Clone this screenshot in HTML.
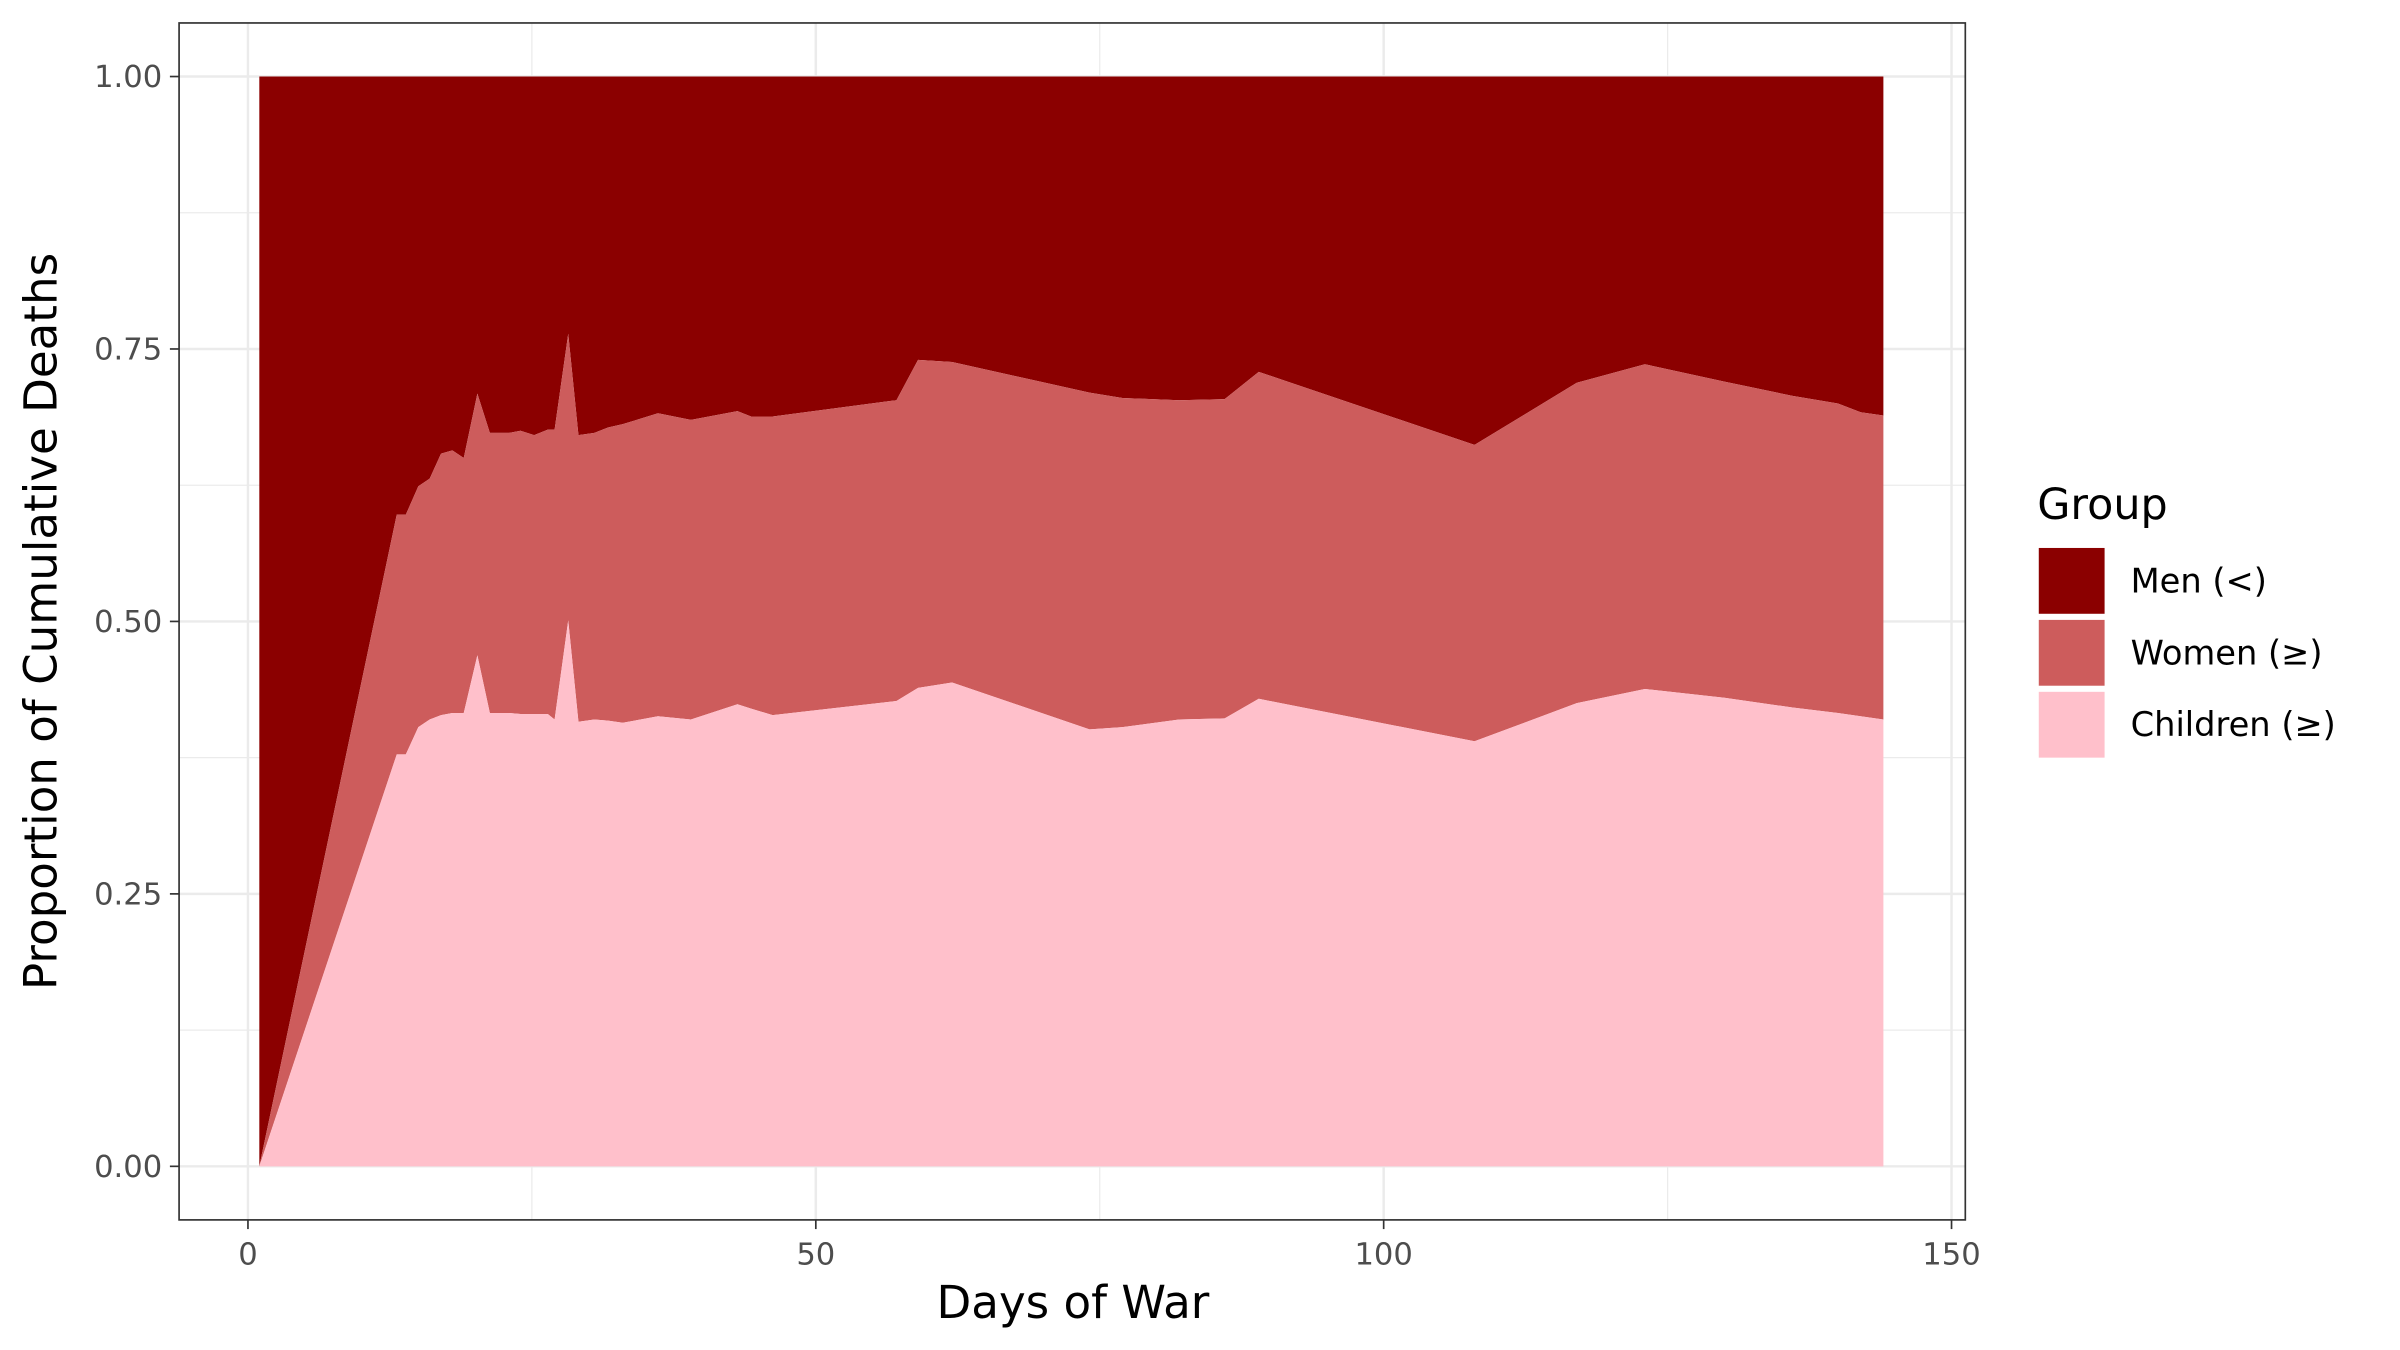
<!DOCTYPE html>
<html><head><meta charset="utf-8"><style>html,body{margin:0;padding:0;background:#fff}svg{display:block}</style></head>
<body>
<svg id="chart" width="2400" height="1350" viewBox="0 0 1568 882" preserveAspectRatio="none" xmlns="http://www.w3.org/2000/svg" font-family="'DejaVu Sans','Liberation Sans',sans-serif">
<rect x="0" y="0" width="1568" height="882" fill="#fff"/>
<g id="grid"></g>
<g id="areas"></g>
<rect x="117" y="15" width="1167" height="782" fill="none" stroke="#333" stroke-width="1.1"/>
<g id="axes"></g>
<text x="701" y="861" font-size="29.5" text-anchor="middle" fill="#000">Days of War</text>
<text transform="translate(37,406) rotate(-90)" font-size="29.5" text-anchor="middle" fill="#000">Proportion of Cumulative Deaths</text>
<g>
<text x="1331" y="339" font-size="28" fill="#000">Group</text>
<rect x="1332" y="358" width="43" height="43" fill="#8b0000"/>
<text x="1392" y="387" font-size="22" fill="#000">Men (&lt;)</text>
<rect x="1332" y="405" width="43" height="43" fill="#cd5c5c"/>
<text x="1392" y="434" font-size="22" fill="#000">Women (≥)</text>
<rect x="1332" y="452" width="43" height="43" fill="#ffc0cb"/>
<text x="1392" y="481" font-size="22" fill="#000">Children (≥)</text>
</g>
</svg>
<script>
const days = [1,13.1,13.9,15,16,17,18,19,20.2,21.3,23,24,25.2,26.4,27,28.2,29.1,30.5,31.7,33,36.1,39,43.1,44.3,46.2,57.1,59,62,74.1,77,82,86,89,108,117,123,130,136,140,142,144];
const childrenTop = [0,0.378,0.378,0.403,0.41,0.414,0.416,0.416,0.469,0.416,0.416,0.415,0.415,0.415,0.41,0.501,0.408,0.41,0.409,0.407,0.413,0.41,0.424,0.42,0.414,0.427,0.439,0.444,0.401,0.403,0.41,0.411,0.429,0.39,0.425,0.438,0.43,0.421,0.416,0.413,0.41];
const womenTop = [0,0.598,0.598,0.624,0.631,0.654,0.657,0.65,0.709,0.673,0.673,0.675,0.671,0.676,0.676,0.764,0.671,0.673,0.678,0.681,0.691,0.685,0.693,0.688,0.688,0.703,0.74,0.738,0.71,0.705,0.703,0.704,0.729,0.662,0.719,0.736,0.72,0.707,0.7,0.692,0.689];
const menTop = days.map(()=>1);
const xTicks = [0,50,100,150];
const xMinor = [25,75,125];
const yTicks = [0,0.25,0.5,0.75,1];
const yLabels = ["0.00","0.25","0.50","0.75","1.00"];
const yMinor = [0.125,0.375,0.625,0.875];

const NS="http://www.w3.org/2000/svg";
const X=d=>162+(d)*(1275-162)/150;
const Y=v=>762-v*712;
function mk(tag,attrs,parent){const e=document.createElementNS(NS,tag);for(const k in attrs)e.setAttribute(k,attrs[k]);parent.appendChild(e);return e;}
const grid=document.getElementById('grid'),areas=document.getElementById('areas'),axes=document.getElementById('axes');
xMinor.forEach(t=>{const l=mk('line',{x1:X(t),x2:X(t),y1:15,y2:797,stroke:'#ebebeb','stroke-width':0.8},grid);

});
yMinor.forEach(t=>{const l=mk('line',{x1:117,x2:1284,y1:Y(t),y2:Y(t),stroke:'#ebebeb','stroke-width':0.8},grid);

});
xTicks.forEach(t=>{const l=mk('line',{x1:X(t),x2:X(t),y1:15,y2:797,stroke:'#ebebeb','stroke-width':1.6},grid);

});
yTicks.forEach(t=>{const l=mk('line',{x1:117,x2:1284,y1:Y(t),y2:Y(t),stroke:'#ebebeb','stroke-width':1.6},grid);

});
function band(top,bottom,color,name){
  let pts=days.map((d,i)=>X(d)+','+Y(top[i]));
  for(let i=days.length-1;i>=0;i--)pts.push(X(days[i])+','+Y(bottom?bottom[i]:0));
  const p=mk('polygon',{points:pts.join(' '),fill:color},areas);
  
  
}
band(menTop,womenTop,'#8b0000','area-men');
band(womenTop,childrenTop,'#cd5c5c','area-women');
band(childrenTop,null,'#ffc0cb','area-children');
xTicks.forEach(t=>{
  const l=mk('line',{x1:X(t),x2:X(t),y1:797,y2:803,stroke:'#333','stroke-width':1.1},axes);
  
  
  const tx=mk('text',{x:X(t),y:826,'font-size':20,'text-anchor':'middle',fill:'#4d4d4d'},axes);
  tx.textContent=t;
  
  
});
yTicks.forEach((t,i)=>{
  const l=mk('line',{x1:111,x2:117,y1:Y(t),y2:Y(t),stroke:'#333','stroke-width':1.1},axes);
  
  
  const tx=mk('text',{x:106,y:Y(t)+7,'font-size':20,'text-anchor':'end',fill:'#4d4d4d'},axes);
  tx.textContent=yLabels[i];
  
  
});
</script>
</body></html>
